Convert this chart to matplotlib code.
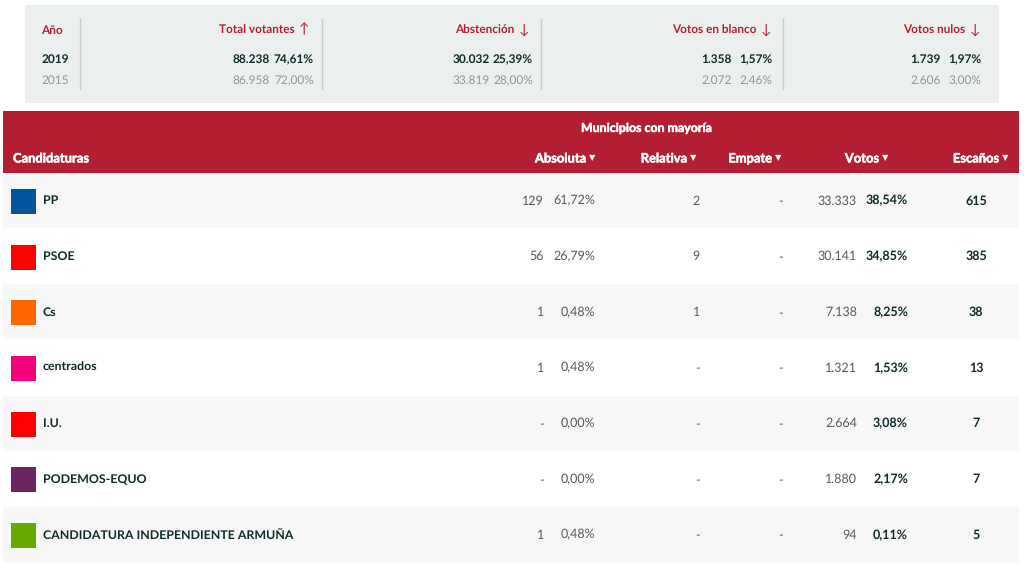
"""Election results table: turnout summary on top, candidacies below."""

import matplotlib.patheffects as pe
import matplotlib.pyplot as plt
from matplotlib.patches import Rectangle

plt.rcParams["text.hinting"] = "no_hinting"

FONT = ["Lato", "DejaVu Sans"]
RED = "#b41e32"
DARK = "#0f2b2b"
GREY = "#8f9695"
BODY = "#545c5b"

# summary block
summary_titles = ["Total votantes", "Abstención", "Votos en blanco", "Votos nulos"]
summary_arrows = ["↑", "↓", "↓", "↓"]
years = ["2019", "2015"]
summary_counts = [
	["88.238", "30.032", "1.358", "1.739"],
	["86.958", "33.819", "2.072", "2.606"],
]
summary_pcts = [
	["74,61%", "25,39%", "1,57%", "1,97%"],
	["72,00%", "28,00%", "2,46%", "3,00%"],
]

# candidacies table
parties = ["PP", "PSOE", "Cs", "centrados", "I.U.", "PODEMOS-EQUO", "CANDIDATURA INDEPENDIENTE ARMUÑA"]
absoluta = ["129", "56", "1", "1", "-", "-", "1"]
absoluta_pct = ["61,72%", "26,79%", "0,48%", "0,48%", "0,00%", "0,00%", "0,48%"]
relativa = ["2", "9", "1", "-", "-", "-", "-"]
empate = ["-", "-", "-", "-", "-", "-", "-"]
votos = ["33.333", "30.141", "7.138", "1.321", "2.664", "1.880", "94"]
votos_pct = ["38,54%", "34,85%", "8,25%", "1,53%", "3,08%", "2,17%", "0,11%"]
escanos = ["615", "385", "38", "13", "7", "7", "5"]
party_colors = ["#00559c", "#ff0000", "#ff6600", "#f5007d", "#ff0000", "#6a2560", "#66aa00"]
sort_columns = ["Absoluta", "Relativa", "Empate", "Votos", "Escaños"]

# layout, in reference pixels
SUMMARY_COUNT_X = [270, 490, 732, 941]
SUMMARY_PCT_X = [314, 533, 772, 981]
SUMMARY_ARROW_X = [304, 523.5, 766, 975]
SUMMARY_SEP_X = [80, 322, 541, 783]
SORT_MARK_X = [592, 693, 778, 885, 1005]
ROW_TOP = 173
ROW_H = 55.7


def label(ax, x, y, s, color=BODY, size=9.0, weight="normal", ha="right", heavy=False):
	txt = ax.text(x, y, s, color=color, fontsize=size, fontweight=weight, ha=ha, va="center", family=FONT)
	if heavy:
		# the header is heavier than Lato Bold in the original
		txt.set_path_effects([pe.withStroke(linewidth=0.4, foreground=color)])


def draw_summary(ax):
	ax.add_patch(Rectangle((25, 5), 974, 98, color="#ebf0ee", lw=0))
	for x in SUMMARY_SEP_X:
		ax.plot([x, x], [19, 89], color="#c9c9c6", lw=1)

	label(ax, 41.5, 30.7, "Año", RED, 8.6, "bold", "left")
	for x, title, arrow in zip(SUMMARY_ARROW_X, summary_titles, summary_arrows):
		label(ax, x - 9.5, 30.7, title, RED, 8.5, "bold")
		label(ax, x, 29.7, arrow, RED, 10, "normal", "center")

	for i, year in enumerate(years):
		y = 59.7 + i * 21
		color, weight = (DARK, "bold") if i == 0 else (GREY, "normal")
		label(ax, 41.5, y, year, color, 8.6, weight, "left")
		for j in range(4):
			label(ax, SUMMARY_COUNT_X[j], y, summary_counts[i][j], color, 8.6, weight)
			label(ax, SUMMARY_PCT_X[j], y, summary_pcts[i][j], color, 8.6, weight)


def draw_header(ax):
	ax.add_patch(Rectangle((3, 111), 1016, 62, color=RED, lw=0))
	label(ax, 646.5, 128.5, "Municipios con mayoría", "white", 8.9, "bold", "center", True)
	label(ax, 13, 158.7, "Candidaturas", "white", 9.3, "bold", "left", True)
	for x, name in zip(SORT_MARK_X, sort_columns):
		label(ax, x - 6, 158.7, name, "white", 9.3, "bold", heavy=True)
		label(ax, x, 158, "▼", "white", 6, "normal", "center")


def draw_rows(ax):
	for i, party in enumerate(parties):
		top = ROW_TOP + i * ROW_H
		y = top + ROW_H / 2
		if i % 2 == 0:
			ax.add_patch(Rectangle((3, top), 1016, ROW_H - 0.7, color="#f7f7f7", lw=0))
		ax.add_patch(Rectangle((11, y - 12), 25, 25, color=party_colors[i], lw=0))
		label(ax, 43, y, party, DARK, 8.9, "bold", "left")
		label(ax, 544, y, absoluta[i])
		label(ax, 595, y, absoluta_pct[i])
		label(ax, 700, y, relativa[i])
		label(ax, 783, y, empate[i])
		label(ax, 857, y, votos[i])
		label(ax, 908, y, votos_pct[i], DARK, 9.0, "bold")
		label(ax, 976, y, escanos[i], DARK, 9.0, "bold", "center")


def main():
	fig = plt.figure(figsize=(10.24, 5.76), dpi=100)
	ax = fig.add_axes([0, 0, 1, 1])
	ax.set_xlim(0, 1024)
	ax.set_ylim(576, 0)
	ax.axis("off")

	draw_summary(ax)
	draw_header(ax)
	draw_rows(ax)

	fig.savefig("out.png", dpi=100)
	plt.close(fig)


if __name__ == "__main__":
	main()
